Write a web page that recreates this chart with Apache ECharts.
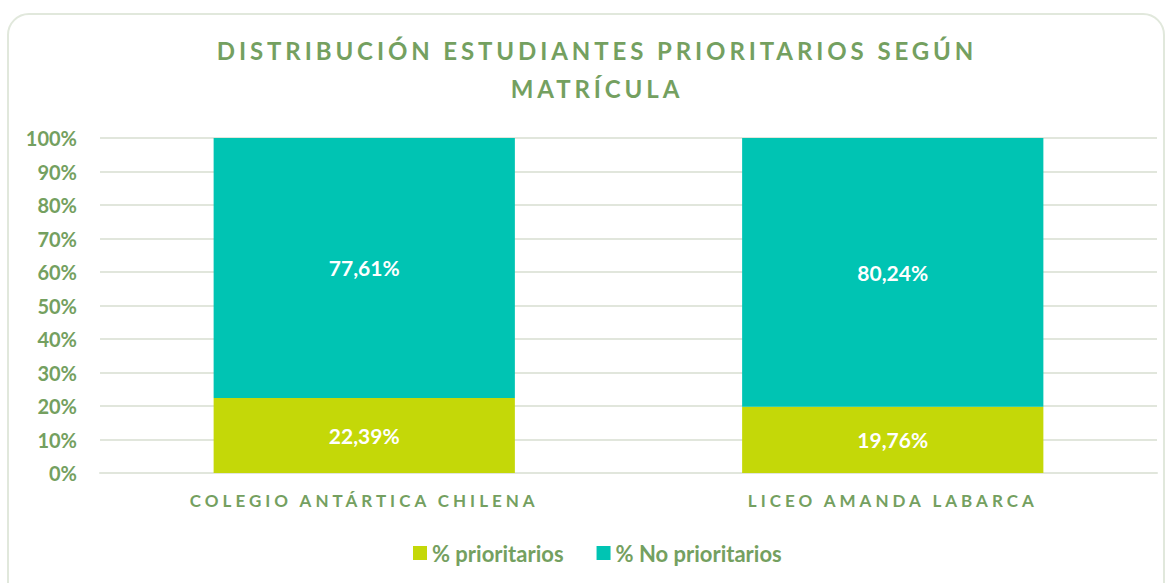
<!DOCTYPE html>
<html lang="es">
<head>
    <meta charset="UTF-8">
    <title>Distribución estudiantes prioritarios</title>
    <script src="https://cdn.jsdelivr.net/npm/echarts@6/dist/echarts.min.js"></script>
    <style>
        body { margin: 0; background: #fff; }
        #marco {
            position: absolute; left: 7px; top: 13px; width: 1154px; height: 590px;
            border: 2px solid #e1e8dc; border-radius: 22px;
        }
        #main { position: absolute; left: 0; top: 0; width: 1170px; height: 583px; }
        /* espaciado de letras para titulo y categorias (solo render svg) */
        #main text[style*="24px"] { letter-spacing: 3.9px; }
        #main text[style*="17px"] { letter-spacing: 4px; }
    </style>
</head>
<body>
<div id="marco"></div>
<div id="main"></div>
<script type="text/javascript">
    // datos del grafico
    var colegios = ['COLEGIO ANTÁRTICA CHILENA', 'LICEO AMANDA LABARCA'];
    var prioritarios = [22.39, 19.76];
    var noPrioritarios = [77.61, 80.24];
    var nombres = ['% prioritarios', '% No prioritarios'];

    var verde = '#74a060';
    var myChart = echarts.init(document.getElementById('main'), null, {renderer: 'svg'});

    function etiqueta(p) {
        return p.value.toFixed(2).replace('.', ',') + '%';
    }

    var option = {
        title: {
            text: 'DISTRIBUCIÓN ESTUDIANTES PRIORITARIOS SEGÚN\nMATRÍCULA',
            left: 597,
            top: 31,
            padding: 0,
            textAlign: 'center',
            textStyle: {
                fontFamily: 'Lato',
                fontSize: 24,
                fontWeight: 'bold',
                color: verde,
                lineHeight: 38
            }
        },
        legend: {
            data: nombres,
            bottom: 19,
            left: 413,
            padding: 0,
            itemWidth: 14,
            itemHeight: 14,
            itemGap: 33,
            icon: 'rect',
            textStyle: {
                fontFamily: 'Lato',
                fontSize: 22,
                fontWeight: 'bold',
                color: verde
            }
        },
        grid: {
            left: 100,
            right: 13,
            top: 138,
            bottom: 110
        },
        xAxis: {
            type: 'category',
            data: colegios,
            axisLine: { lineStyle: { color: '#e1e6dc', width: 2 } },
            axisTick: { show: false },
            axisLabel: {
                margin: 19,
                fontFamily: 'Lato',
                fontSize: 17,
                fontWeight: 'bold',
                color: verde
            }
        },
        yAxis: {
            type: 'value',
            min: 0,
            max: 100,
            interval: 10,
            axisLabel: {
                formatter: '{value}%',
                margin: 23,
                fontFamily: 'Lato',
                fontSize: 20,
                fontWeight: 'bold',
                color: verde
            },
            splitLine: { lineStyle: { color: '#e1e6dc', width: 2 } }
        },
        series: [
            {
                name: nombres[0],
                type: 'bar',
                stack: 'total',
                barWidth: '57%',
                data: prioritarios,
                itemStyle: { color: '#c4d808' },
                label: {
                    show: true,
                    position: 'inside',
                    formatter: etiqueta,
                    fontFamily: 'Lato',
                    fontSize: 21,
                    fontWeight: 'bold',
                    color: '#fff'
                }
            },
            {
                name: nombres[1],
                type: 'bar',
                stack: 'total',
                barWidth: '57%',
                data: noPrioritarios,
                itemStyle: { color: '#00c4b3' },
                label: {
                    show: true,
                    position: 'inside',
                    formatter: etiqueta,
                    fontFamily: 'Lato',
                    fontSize: 21,
                    fontWeight: 'bold',
                    color: '#fff'
                }
            }
        ]
    };

    myChart.setOption(option);
</script>
</body>
</html>
